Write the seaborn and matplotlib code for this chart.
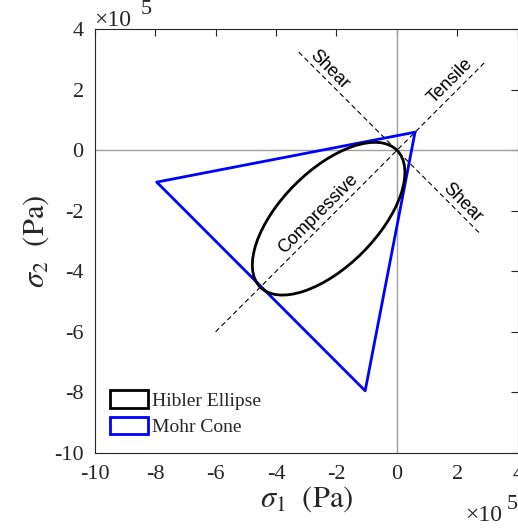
import numpy as np
import pandas as pd
import matplotlib
matplotlib.use("Agg")
import matplotlib.pyplot as plt
import seaborn as sns
from matplotlib.patches import Ellipse, Patch
from matplotlib.ticker import FuncFormatter

# ---- data (Pa) ----
cone_sigma1 = [0.6e5, -7.95e5, -1.05e5, 0.6e5]
cone_sigma2 = [0.6e5, -1.05e5, -7.95e5, 0.6e5]

ellipse_center = (-2.26e5, -2.26e5)
ellipse_major = 6.4e5     # full length along diagonal
ellipse_minor = 3.17e5    # full length across diagonal
ellipse_angle = 45

diag_s1 = [-6.0e5, 2.9e5]
diag_s2 = [-6.0e5, 2.9e5]
anti_s1 = [-3.25e5, 2.75e5]
anti_s2 = [3.25e5, -2.75e5]

labels = ["Shear", "Tensile", "Compressive", "Shear"]
label_x = [-2.25e5, 1.78e5, -2.61e5, 2.18e5]
label_y = [2.65e5, 2.30e5, -2.11e5, -1.73e5]
label_rot = [-45, 45, 45, -45]

xticks = [-10e5, -8e5, -6e5, -4e5, -2e5, 0, 2e5, 4e5]
yticks = xticks
scale_exp = 5

sns.set_theme(style="white")
plt.rcParams["font.family"] = ["Liberation Serif", "DejaVu Serif"]
plt.rcParams["mathtext.fontset"] = "stix"
plt.rcParams["axes.unicode_minus"] = False

W, H = 518, 528
fig = plt.figure(figsize=(W / 100, H / 100), dpi=100)
ax = fig.add_axes([0.183, 0.1424, 0.8165, 0.802])

ax.set_xlim(-10e5, 4e5)
ax.set_ylim(-10e5, 4e5)

# zero axes
ax.axhline(0, color="#a0a0a0", lw=1.0, zorder=1)
ax.axvline(0, color="#a0a0a0", lw=1.0, zorder=1)

# dashed guide lines
sns.lineplot(x=diag_s1, y=diag_s2, ax=ax, color="black", lw=0.8, estimator=None,
             linestyle=(0, (4.5, 3)), sort=False, legend=False, zorder=2)
sns.lineplot(x=anti_s1, y=anti_s2, ax=ax, color="black", lw=0.8, estimator=None,
             linestyle=(0, (4.5, 3)), sort=False, legend=False, zorder=2)

# Mohr cone
sns.lineplot(x=cone_sigma1, y=cone_sigma2, ax=ax, color="#0000ff", lw=2.0,
             estimator=None, sort=False, legend=False, zorder=3)

# Hibler ellipse
ax.add_patch(Ellipse(ellipse_center, ellipse_major, ellipse_minor, angle=ellipse_angle,
                     facecolor="none", edgecolor="black", lw=2.0, zorder=4))

for t, x, y, r in zip(labels, label_x, label_y, label_rot):
    ax.text(x, y, t, rotation=r, rotation_mode="anchor", ha="center", va="center",
            fontsize=13, family=["Liberation Sans", "DejaVu Sans"], color="black", zorder=5)

ax.set_xticks(xticks)
ax.set_yticks(yticks)
fmt = FuncFormatter(lambda v, p: f"{v / 10 ** scale_exp:g}")
ax.xaxis.set_major_formatter(fmt)
ax.yaxis.set_major_formatter(fmt)
ax.tick_params(direction="in", length=5, width=0.8, colors="#262626",
               labelsize=16, top=True, right=True)
ax.tick_params(axis="x", pad=9)
ax.tick_params(axis="y", pad=8)
for s in ax.spines.values():
    s.set_color("#262626")
    s.set_linewidth(0.8)

# exponent labels
def fig_text(px, py, s, **kw):
    fig.text(px / W, 1 - py / H, s, va="baseline", ha="left", color="#262626", **kw)

fig_text(94, 26, "\u00d710", fontsize=17)
fig_text(141, 14, str(scale_exp), fontsize=16)
fig_text(465, 521, "\u00d710", fontsize=17)
fig_text(507, 509, str(scale_exp), fontsize=16)

ax.set_xlabel(r"$\sigma_1\ \ \mathrm{(Pa)}$", fontsize=22, color="#262626", labelpad=0)
ax.set_ylabel(r"$\sigma_2\ \ \mathrm{(Pa)}$", fontsize=22, color="#262626", labelpad=2)

handles = [Patch(facecolor="none", edgecolor="black", lw=2, label="Hibler Ellipse"),
           Patch(facecolor="none", edgecolor="#0000ff", lw=2, label="Mohr Cone")]
ax.legend(handles=handles, loc="lower left", bbox_to_anchor=(0.035, 0.04),
          frameon=False, fontsize=14, handlelength=2.0, handleheight=1.0,
          handletextpad=0.2, labelspacing=0.35, borderpad=0, borderaxespad=0)

fig.savefig("out.png", dpi=100)
